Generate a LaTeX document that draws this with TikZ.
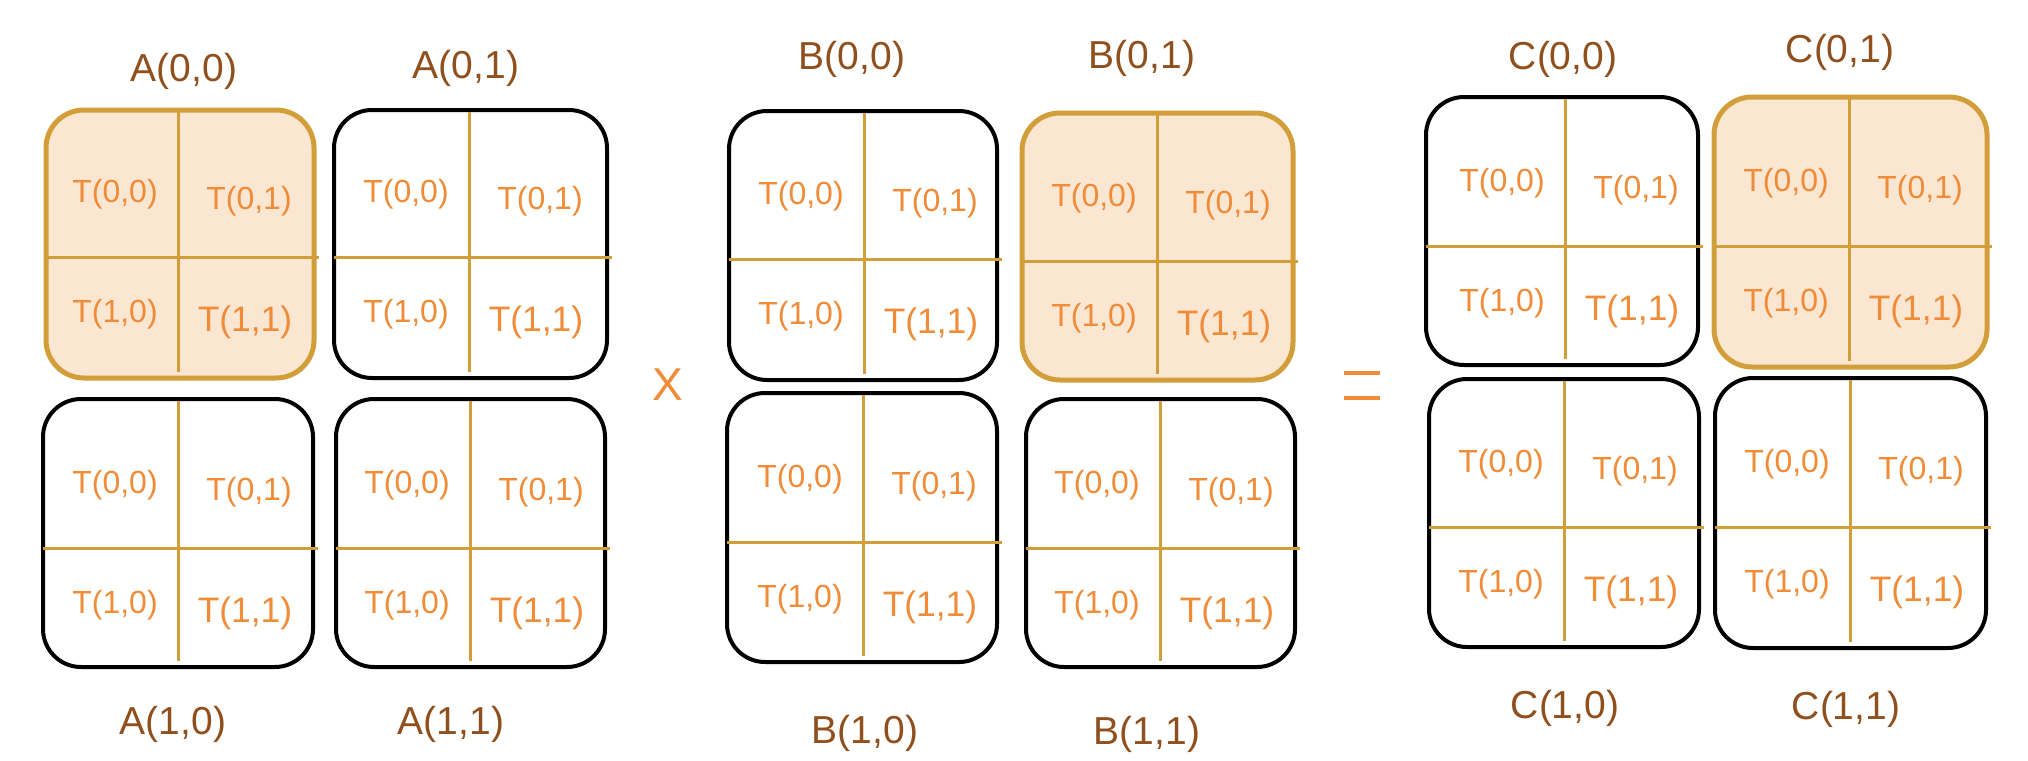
\documentclass[tikz,border=0pt]{standalone}
\usepackage{fontspec}
\setmainfont{Liberation Sans}
\definecolor{gold}{HTML}{D29E3A}
\definecolor{peach}{HTML}{FBE6D1}
\definecolor{tilec}{HTML}{F08B37}
\definecolor{labc}{HTML}{8F501E}
\tikzset{
  blockplain/.style={draw=black, line width=2pt, rounded corners=19pt, inner sep=0pt, outer sep=0pt},
  blockhi/.style={draw=gold, fill=peach, line width=2.5pt, rounded corners=19pt, inner sep=0pt, outer sep=0pt},
  divider/.style={draw=gold, line width=1.5pt},
  tiletxt/.style={text=tilec, font=\fontsize{16}{19}\selectfont, inner sep=0pt, anchor=base},
  tilebig/.style={text=tilec, font=\fontsize{17.7}{21}\selectfont, inner sep=0pt, anchor=base},
  blocklabel/.style={text=labc, font=\fontsize{19.5}{23}\selectfont, inner sep=0pt, anchor=base},
  opsign/.style={text=tilec, font=\fontsize{23}{27}\selectfont, inner sep=0pt, anchor=base},
  eqbar/.style={draw=tilec, line width=1.75pt}
}
% #1 name, #2 x1, #3 y1, #4 x2, #5 y2, #6 vertical divider x, #7 horizontal divider y, #8 style
\newcommand\tileblock[8]{%
  \node[#8, minimum width={(#4-#2)*0.5pt}, minimum height={(#5-#3)*0.5pt}] (#1) at ({(#2+#4)/2},{(#3+#5)/2}) {};
  \draw[divider] (#6,#3+2) -- (#6,#5-6);
  \draw[divider] (#2,#7) -- (#4+5,#7);
  \node[tiletxt] (#1t00) at (#6-63,#7-66+11.5) {T(0,0)};
  \node[tiletxt] (#1t01) at (#6+71,#7-59+11.5) {T(0,1)};
  \node[tiletxt] (#1t10) at (#6-63,#7+54+11.5) {T(1,0)};
  \node[tilebig] (#1t11) at (#6+67,#7+62+12.7) {T(1,1)};
}
\begin{document}
\begin{tikzpicture}[x=0.5pt,y=-0.5pt]
\useasboundingbox[fill=white] (0,0) rectangle (2028,760);

% A blocks
\tileblock{A00}{46}{110}{314}{378}{178}{257}{blockhi}
\tileblock{A01}{334}{110}{607}{378}{469}{257}{blockplain}
\tileblock{A10}{43}{399}{313}{667}{178}{548}{blockplain}
\tileblock{A11}{336}{399}{605}{667}{470}{548}{blockplain}
\node[blocklabel] (lA00) at (184,67+14) {A(0,0)};
\node[blocklabel] (lA01) at (466,64+14) {A(0,1)};
\node[blocklabel] (lA10) at (173,720+14) {A(1,0)};
\node[blocklabel] (lA11) at (451,720+14) {A(1,1)};

% times sign
\node[opsign] (times) at (668,384+16.5) {X};

% B blocks
\tileblock{B00}{729}{111}{997}{380}{864}{259}{blockplain}
\tileblock{B01}{1022}{113}{1293}{380}{1157}{261}{blockhi}
\tileblock{B10}{727}{393}{997}{662}{863}{542}{blockplain}
\tileblock{B11}{1026}{399}{1295}{667}{1160}{548}{blockplain}
\node[blocklabel] (lB00) at (852,55+14) {B(0,0)};
\node[blocklabel] (lB01) at (1142,54+14) {B(0,1)};
\node[blocklabel] (lB10) at (865,729+14) {B(1,0)};
\node[blocklabel] (lB11) at (1147,730+14) {B(1,1)};

% equals sign
\coordinate (eqa) at (1344,373);
\coordinate (eqb) at (1380,373);
\coordinate (eqc) at (1344,398);
\coordinate (eqd) at (1380,398);
\draw[eqbar] (eqa) -- (eqb);
\draw[eqbar] (eqc) -- (eqd);

% C blocks
\tileblock{C00}{1426}{97}{1698}{365}{1565}{246}{blockplain}
\tileblock{C01}{1714}{97}{1987}{367}{1849}{246}{blockhi}
\tileblock{C10}{1429}{379}{1699}{647}{1564}{527}{blockplain}
\tileblock{C11}{1715}{378}{1986}{648}{1850}{527}{blockplain}
\node[blocklabel] (lC00) at (1563,55+14) {C(0,0)};
\node[blocklabel] (lC01) at (1840,48+14) {C(0,1)};
\node[blocklabel] (lC10) at (1565,704+14) {C(1,0)};
\node[blocklabel] (lC11) at (1846,705+14) {C(1,1)};
\end{tikzpicture}
\end{document}
